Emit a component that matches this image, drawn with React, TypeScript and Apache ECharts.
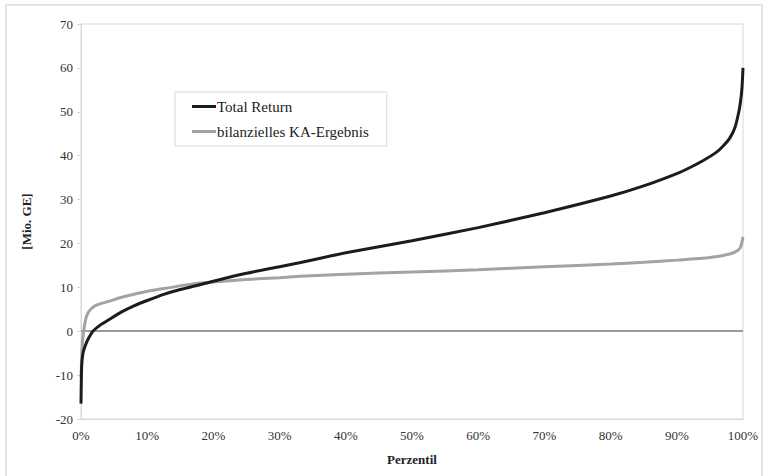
import React, { useEffect, useRef } from "react";
import * as echarts from "echarts";

const xTicks = [0, 10, 20, 30, 40, 50, 60, 70, 80, 90, 100];

const totalReturnPct = [0, 0.1, 0.3, 0.6, 1, 1.8, 3, 4.2, 6, 8, 10, 12.5, 15, 17.5, 20, 25, 30, 33, 40, 50, 60, 70, 80, 85, 90, 92, 94, 96, 97, 98, 98.8, 99.3, 99.6, 99.85, 100];
const totalReturnVal = [-16.5, -8, -5, -3.5, -2, 0, 1.5, 2.6, 4.3, 5.8, 7.0, 8.4, 9.5, 10.4, 11.4, 13.2, 14.7, 15.6, 17.9, 20.6, 23.6, 27, 30.8, 33.1, 35.9, 37.3, 38.9, 40.8, 42.2, 44.0, 46.5, 49.5, 52, 55.5, 60];

const kaPct = [0, 0.2, 0.4, 0.75, 1.2, 2, 3, 4.2, 6, 9.4, 12, 17.4, 20, 25, 30, 33, 40, 50, 60, 70, 80, 85, 90, 95, 98, 99.3, 99.7, 100];
const kaVal = [-10.5, -3, 0, 3, 4.5, 5.7, 6.3, 6.8, 7.7, 8.9, 9.6, 10.9, 11.2, 11.8, 12.2, 12.5, 13, 13.5, 14, 14.7, 15.3, 15.7, 16.2, 16.8, 17.6, 18.5, 19.5, 21.5];

const seriesNames = ["Total Return", "bilanzielles KA-Ergebnis"];

export default function App() {
  const ref = useRef<HTMLDivElement>(null);
  useEffect(() => {
    if (!ref.current) return;
    const chart = echarts.init(ref.current, null, { renderer: "svg" });
    const font = "Liberation Serif, Times New Roman, DejaVu Serif, serif";
    chart.setOption({
      animation: false,
      backgroundColor: "#ffffff",
      textStyle: { fontFamily: font },
      graphic: [
        {
          type: "rect",
          shape: { x: 6, y: 5, width: 756, height: 480 },
          style: { fill: "none", stroke: "#dcdcdc", lineWidth: 1.5 },
          silent: true,
        },
      ],
      grid: { left: 81, right: 26, top: 24, bottom: 57, show: true, borderColor: "#d8d8d8", borderWidth: 1 },
      legend: {
        left: 175,
        top: 92,
        orient: "vertical",
        data: seriesNames,
        icon: "rect",
        itemWidth: 24,
        itemHeight: 3,
        itemGap: 10,
        padding: [7, 18, 7, 17],
        borderColor: "#d8d8d8",
        borderWidth: 1,
        backgroundColor: "#fff",
        textStyle: { fontFamily: font, fontSize: 15, color: "#222", padding: [0, 0, 0, -4] },
        width: 210,
      },
      xAxis: {
        type: "value",
        min: 0,
        max: 100,
        interval: 10,
        name: "Perzentil",
        nameLocation: "middle",
        nameGap: 34,
        nameTextStyle: { fontFamily: font, fontSize: 13, fontWeight: "bold", color: "#222" },
        axisLine: { onZero: false, show: true, lineStyle: { color: "#d8d8d8" } },
        axisTick: { show: false },
        splitLine: { show: false },
        axisLabel: {
          formatter: (v: number) => `${v}%`,
          fontFamily: font,
          fontSize: 13,
          color: "#333",
          margin: 10,
          customValues: xTicks,
        },
      },
      yAxis: {
        type: "value",
        min: -20,
        max: 70,
        interval: 10,
        name: "[Mio. GE]",
        nameLocation: "middle",
        nameGap: 48,
        nameTextStyle: { fontFamily: font, fontSize: 13, fontWeight: "bold", color: "#222" },
        axisLine: { show: true, lineStyle: { color: "#d8d8d8" } },
        axisTick: { show: true, length: 4, lineStyle: { color: "#d8d8d8" } },
        splitLine: { show: false },
        axisLabel: { fontFamily: font, fontSize: 13, color: "#333", margin: 8 },
      },
      series: [
        {
          name: seriesNames[0],
          type: "line",
          data: totalReturnPct.map((p, i) => [p, totalReturnVal[i]]),
          symbol: "none",
          smooth: 0.2,
          lineStyle: { color: "#1c1c1c", width: 3 },
          itemStyle: { color: "#1c1c1c" },
          z: 3,
          markLine: {
            silent: true,
            symbol: "none",
            label: { show: false },
            lineStyle: { color: "#7a7a7a", width: 1.5, type: "solid" },
            data: [{ yAxis: 0 }],
            z: 1,
          },
        },
        {
          name: seriesNames[1],
          type: "line",
          data: kaPct.map((p, i) => [p, kaVal[i]]),
          symbol: "none",
          smooth: 0.2,
          lineStyle: { color: "#a3a3a3", width: 3 },
          itemStyle: { color: "#a3a3a3" },
          z: 2,
        },
      ],
    });
    return () => chart.dispose();
  }, []);
  return <div ref={ref} style={{ position: "fixed", left: 0, top: 0, width: 769, height: 476 }} />;
}
